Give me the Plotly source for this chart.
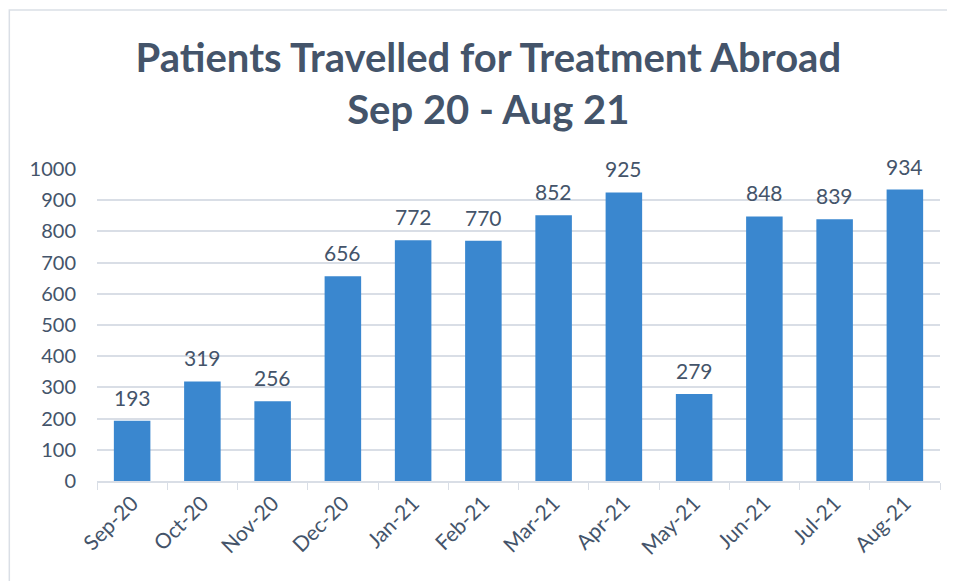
import plotly.graph_objects as go

months = ['Sep-20', 'Oct-20', 'Nov-20', 'Dec-20', 'Jan-21', 'Feb-21',
          'Mar-21', 'Apr-21', 'May-21', 'Jun-21', 'Jul-21', 'Aug-21']
patients = [193, 319, 256, 656, 772, 770, 852, 925, 279, 848, 839, 934]

TEXT = '#44546A'
GRID = '#D9DEE6'

fig = go.Figure(go.Bar(
    x=months,
    y=patients,
    width=0.52,
    marker=dict(color='#3A87CF', line=dict(width=0)),
    hovertemplate='<b>%{x}</b><br>Patients: %{y}<extra></extra>',
))

# data labels sit a little higher above the bars than plotly's default
for m, v in zip(months, patients):
    fig.add_annotation(x=m, y=v, text=str(v), showarrow=False,
                       yanchor='bottom', yshift=9,
                       font=dict(size=21, color=TEXT, family='Lato'))

# chart border
fig.add_shape(type='rect', xref='paper', yref='paper',
              x0=-0.104, x1=1.05, y0=-0.5, y1=1.51,
              line=dict(color='#DADFE6', width=1.5), layer='below')

# page body has an 8px margin, so margins are shifted to compensate
fig.update_layout(
    width=955, height=581,
    margin=dict(l=89, r=23, t=161, b=108, autoexpand=False),
    plot_bgcolor='white', paper_bgcolor='white',
    font=dict(family='Lato', color=TEXT),
    title=dict(
        text='<b>Patients Travelled for Treatment Abroad<br>Sep 20 - Aug 21</b>',
        x=0.503, xanchor='center', y=0.89, yanchor='middle',
        font=dict(size=40, color=TEXT, family='Lato'),
    ),
    bargap=0.48,
    showlegend=False,
)
fig.update_yaxes(
    range=[0, 1000], dtick=100, showgrid=True, gridcolor=GRID, gridwidth=1.5,
    zeroline=False, tickfont=dict(size=20, color=TEXT), ticks='', ticklabelstandoff=20,
    automargin=False,
)
fig.update_xaxes(
    tickangle=-45, tickfont=dict(size=21, color=TEXT),
    showline=True, linecolor=GRID, linewidth=1.5,
    ticks='outside', tickson='boundaries', ticklen=7, tickcolor=GRID,
    automargin=False,
)

fig.write_html("out.html")
